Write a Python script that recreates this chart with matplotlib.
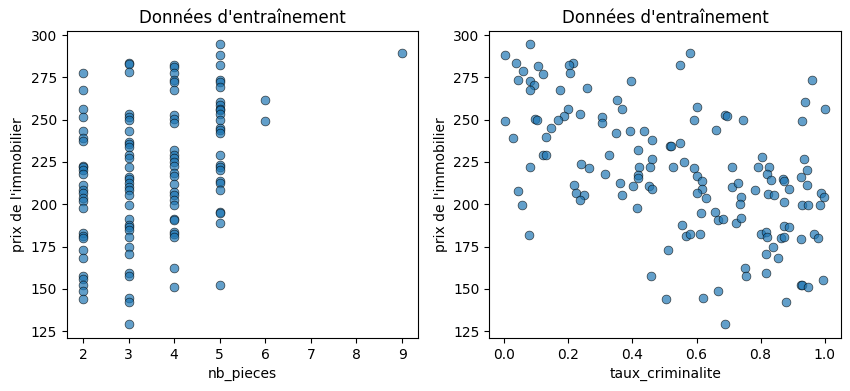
import matplotlib
matplotlib.use("Agg")
import matplotlib.pyplot as plt

# Left panel: nb_pieces vs price
pieces_left = ([2] * 27 + [3] * 32 + [4] * 28 + [5] * 26 + [6] * 2 + [9])
prix_left = [
    # 2 pieces
    277.4, 267.3, 256.3, 251.3, 243.4, 238.9, 237.5, 222.8, 221.8, 220.5, 217.6,
    211.1, 208.4, 206.4, 203.8, 202.0, 197.9, 182.9, 181.3, 179.8, 172.9, 168.0,
    157.7, 155.9, 152.2, 148.5, 143.7,
    # 3 pieces
    283.8, 283.2, 278.5, 253.3, 251.3, 249.7, 243.2, 236.9, 235.6, 234.0, 229.1,
    227.1, 221.8, 216.2, 214.9, 212.3, 210.3, 208.4, 205.4, 199.5, 191.0, 187.7,
    186.7, 184.7, 180.8, 174.5, 170.5, 159.5, 157.5, 144.7, 142.3, 129.1,
    # 4 pieces
    282.3, 281.3, 277.9, 273.4, 272.4, 267.3, 252.7, 250.7, 247.8, 232.0, 229.0,
    227.1, 225.1, 222.7, 218.2, 216.6, 211.9, 207.4, 205.4, 202.4, 199.5, 191.2,
    190.6, 183.3, 182.3, 180.8, 162.6, 150.8,
    # 5 pieces
    294.7, 288.0, 282.3, 273.4, 272.0, 269.5, 260.6, 258.6, 256.6, 255.7, 253.3,
    249.7, 245.2, 243.8, 241.9, 229.4, 223.5, 222.2, 220.2, 213.9, 212.7, 208.7,
    195.5, 195.0, 189.2, 152.0,
    # 6 pieces
    261.4, 249.5,
    # 9 pieces
    289.2,
]

# Right panel: taux_criminalite vs price
taux_right = [
    0.003, 0.081, 0.036, 0.059, 0.044, 0.106, 0.122, 0.080, 0.094, 0.081, 0.003,
    0.096, 0.103, 0.026, 0.147, 0.131, 0.122, 0.131, 0.081, 0.044, 0.056, 0.078,
    0.213, 0.201, 0.205, 0.174, 0.258, 0.200, 0.185, 0.168, 0.237, 0.240, 0.265,
    0.218, 0.224, 0.248, 0.237,
    0.580, 0.548, 0.396, 0.352, 0.368, 0.306, 0.306, 0.602, 0.592, 0.349, 0.393,
    0.436, 0.461, 0.517, 0.521, 0.549, 0.418, 0.327, 0.461, 0.421, 0.455, 0.527,
    0.561, 0.592, 0.602, 0.617, 0.617, 0.602, 0.629, 0.315, 0.362, 0.401, 0.418,
    0.418, 0.452, 0.461, 0.368, 0.413, 0.614, 0.555, 0.566, 0.580, 0.611, 0.511,
    0.458, 0.505, 0.621,
    0.690, 0.695, 0.745, 0.660, 0.960, 0.939, 1.001, 0.929, 0.805, 0.711, 0.792,
    0.826, 0.820, 0.833, 0.870, 0.873, 0.889, 0.926, 0.945, 0.935, 0.945, 0.711,
    0.730, 0.739, 0.736, 0.783, 0.823, 0.842, 0.873, 0.928, 0.947, 0.985, 0.989,
    0.998, 0.658, 0.667, 0.683, 0.723, 0.739, 0.801, 0.817, 0.820, 0.864, 0.873,
    0.873, 0.889, 0.926, 0.967, 0.979, 0.839, 0.817, 0.854, 0.752, 0.755, 0.817,
    0.927, 0.929, 0.948, 0.995, 0.879, 0.667, 0.689,
]
prix_right = [
    288.0, 294.7, 283.4, 278.7, 273.4, 281.7, 277.3, 273.0, 270.4, 267.5, 249.5,
    250.7, 250.1, 239.1, 245.0, 239.7, 229.0, 229.4, 222.3, 207.6, 199.5, 181.7,
    283.8, 282.1, 277.9, 267.5, 268.5, 256.2, 252.1, 250.1, 253.3, 223.7, 221.6,
    211.3, 206.6, 205.4, 202.4,
    289.2, 282.3, 272.8, 261.6, 256.2, 251.3, 247.8, 257.8, 249.7, 241.9, 243.2,
    243.2, 237.9, 234.4, 234.6, 236.5, 232.0, 229.4, 226.5, 222.0, 222.3, 222.0,
    224.7, 221.4, 216.6, 213.7, 208.8, 206.6, 203.6, 217.8, 212.3, 210.7, 217.2,
    215.6, 210.7, 208.8, 205.2, 197.5, 194.8, 187.7, 181.2, 182.7, 182.3, 172.9,
    157.3, 143.7, 144.5,
    252.5, 252.0, 250.1, 244.2, 273.2, 260.2, 256.1, 249.5, 227.7, 221.8, 222.3,
    222.3, 217.8, 214.1, 214.7, 213.5, 208.8, 216.0, 220.2, 226.7, 211.3, 210.1,
    212.3, 204.2, 199.9, 208.2, 206.0, 205.4, 201.3, 199.5, 199.5, 199.5, 206.4,
    204.0, 195.2, 190.6, 191.0, 189.2, 191.6, 182.3, 183.7, 180.4, 179.8, 180.4,
    186.9, 186.3, 179.2, 182.7, 179.8, 174.5, 170.3, 168.0, 162.6, 157.3, 159.1,
    152.0, 152.2, 151.0, 155.5, 142.0, 148.6, 129.1,
]

title = "Données d'entraînement"
ylabel = "prix de l'immobilier"
xlabels = ["nb_pieces", "taux_criminalite"]

fig = plt.figure(figsize=(8.5, 3.91), dpi=100)
ax1 = fig.add_axes([0.0788, 0.1355, 0.413, 0.785])
ax2 = fig.add_axes([0.5756, 0.1355, 0.4138, 0.785])

style = dict(color="#1f77b4", alpha=0.7, edgecolor="black", linewidth=0.5, s=40)
ax1.scatter(pieces_left, prix_left, **style)
ax2.scatter(taux_right, prix_right, **style)

for ax, xl in zip([ax1, ax2], xlabels):
    ax.set_title(title, fontsize=12)
    ax.set_xlabel(xl, fontsize=10)
    ax.set_ylabel(ylabel, fontsize=10)
    ax.set_yticks([125, 150, 175, 200, 225, 250, 275, 300])
    ax.set_ylim(120.9, 302.4)

ax1.set_xticks([2, 3, 4, 5, 6, 7, 8, 9])
ax1.set_xlim(1.65, 9.35)
ax2.set_xlim(-0.047, 1.051)

fig.savefig("out.png", dpi=100)
